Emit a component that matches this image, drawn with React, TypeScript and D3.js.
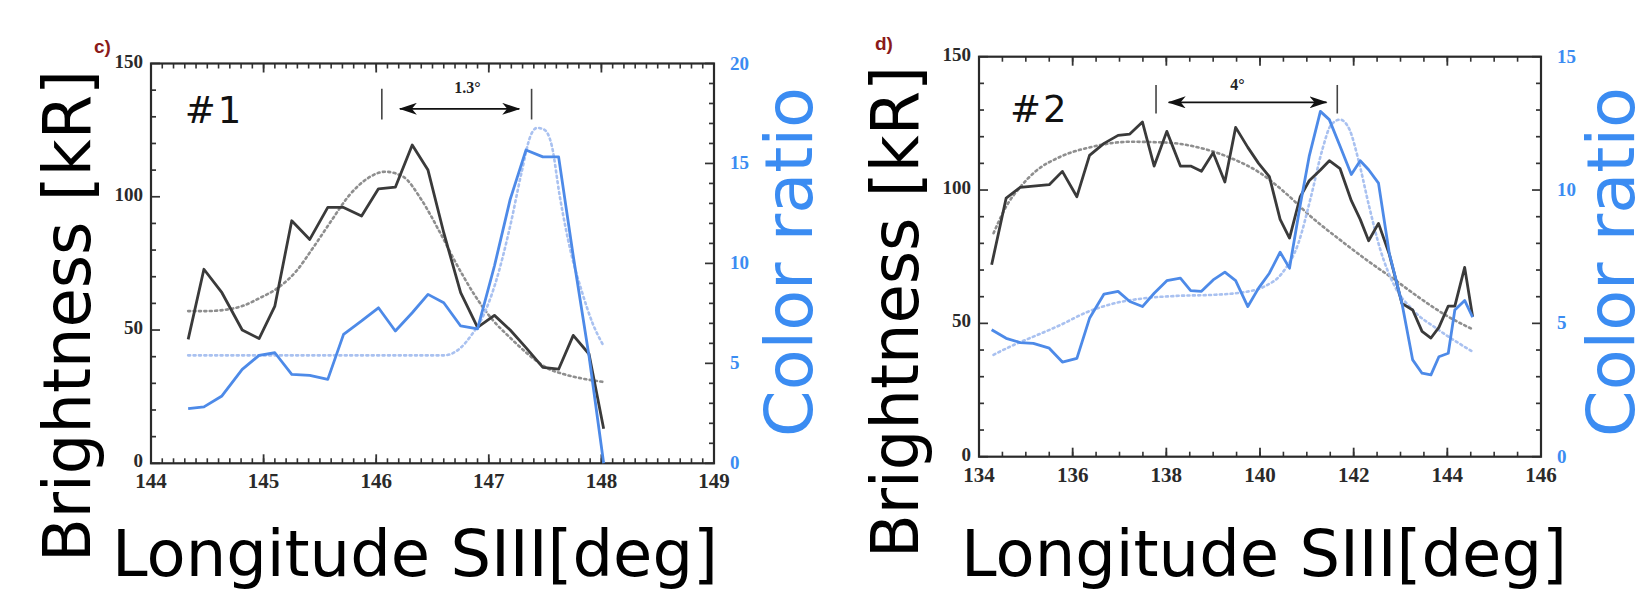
import React from "react";
import * as d3 from "d3";

// ---------- Panel c) (#1) ----------
const lonC = [144.33, 144.47, 144.63, 144.81, 144.96, 145.1, 145.25, 145.41, 145.57, 145.71, 145.87, 146.02, 146.17, 146.32, 146.46, 146.6, 146.75, 146.9, 147.05, 147.19, 147.33, 147.48, 147.62, 147.75, 147.89, 148.02];
const brightC = [46.5, 72.8, 64, 50, 46.8, 59, 91, 84, 96, 96, 92.8, 103, 103.6, 119.4, 110, 86.5, 64, 51, 55.5, 50, 43.4, 36, 35.3, 48, 41, 13];
const ratioC = [2.73, 2.82, 3.37, 4.7, 5.4, 5.53, 4.45, 4.4, 4.2, 6.45, 7.12, 7.78, 6.62, 7.53, 8.45, 8.03, 6.87, 6.73, 9.87, 13.2, 15.67, 15.33, 15.33, 10.37, 5.37, 0];
const brightFitLonC = [144.33, 144.49, 144.64, 144.81, 144.97, 145.13, 145.29, 145.44, 145.6, 145.76, 145.92, 146.08, 146.24, 146.4, 146.56, 146.71, 146.87, 147.03, 147.19, 147.35, 147.51, 147.67, 147.83, 148.02];
const brightFitC = [57.1, 57.1, 57.5, 59, 62.1, 65.9, 72.1, 80.9, 90.9, 100.5, 106.8, 109.4, 107.5, 99, 87.1, 75, 63.4, 54, 47.1, 40.9, 35.9, 33.4, 31.8, 30.5];
const ratioFitLonC = [144.33, 144.8, 145.3, 145.8, 146.2, 146.6, 146.75, 146.84, 146.95, 147.06, 147.19, 147.29, 147.37, 147.43, 147.49, 147.56, 147.63, 147.73, 147.83, 147.92, 148.02];
const ratioFitC = [5.4, 5.4, 5.4, 5.4, 5.4, 5.4, 5.78, 6.37, 7.37, 9.03, 11.87, 14.53, 16.37, 16.78, 16.7, 15.87, 13.37, 10.53, 8.53, 7.03, 5.87];
const xTicksC = [144, 145, 146, 147, 148, 149];
const markersC = [146.05, 147.38];
const arrowC = [146.21, 147.27];

// ---------- Panel d) (#2) ----------
const lonD = [134.27, 134.58, 134.88, 135.16, 135.5, 135.78, 136.09, 136.36, 136.67, 136.97, 137.22, 137.49, 137.74, 138.01, 138.3, 138.52, 138.75, 139.0, 139.25, 139.48, 139.74, 139.97, 140.2, 140.43, 140.63, 140.86, 141.05, 141.29, 141.48, 141.71, 141.95, 142.14, 142.32, 142.53, 142.76, 143.03, 143.26, 143.46, 143.65, 143.82, 144.02, 144.16, 144.37, 144.54];
const brightD = [72, 97, 101, 101.5, 102, 107, 97.5, 113, 117.5, 120.5, 121, 125.5, 109, 122, 109, 109, 107, 114, 103, 123.5, 116, 110, 105, 89, 82, 97.5, 103.5, 107.5, 111, 108, 96, 89, 81, 87.5, 76, 57.5, 55, 47, 44.5, 48.5, 56.5, 56.5, 71, 52.5];
const ratioD = [4.76, 4.44, 4.28, 4.25, 4.07, 3.55, 3.69, 5.19, 6.1, 6.2, 5.82, 5.63, 6.13, 6.6, 6.7, 6.23, 6.2, 6.63, 6.92, 6.6, 5.63, 6.32, 6.88, 7.67, 7.07, 9.45, 11.26, 12.95, 12.64, 11.64, 10.58, 11.1, 10.76, 10.26, 7.63, 5.76, 3.63, 3.13, 3.07, 3.75, 3.88, 5.5, 5.86, 5.23];
const brightFitLonD = [134.31, 134.58, 134.89, 135.2, 135.74, 136.44, 137.22, 137.99, 138.77, 139.39, 140.01, 140.55, 141.09, 141.71, 142.33, 142.88, 143.42, 144.04, 144.54];
const brightFitD = [83.8, 93.8, 101.3, 106.9, 112.5, 116.3, 118.1, 117.8, 115.6, 111.9, 106.3, 98.8, 90, 81.3, 73.1, 66.3, 59.4, 52.3, 47.8];
const ratioFitLonD = [134.31, 134.74, 135.2, 135.74, 136.29, 136.91, 137.53, 138.22, 139.0, 139.62, 140.09, 140.47, 140.82, 141.09, 141.33, 141.52, 141.71, 141.91, 142.1, 142.33, 142.57, 142.88, 143.26, 143.81, 144.54];
const ratioFitD = [3.82, 4.19, 4.53, 4.94, 5.41, 5.76, 5.94, 6.03, 6.07, 6.16, 6.38, 6.88, 8.01, 9.76, 11.51, 12.45, 12.64, 12.27, 11.14, 9.39, 7.76, 6.38, 5.51, 4.76, 3.94];
const xTicksD = [134, 136, 138, 140, 142, 144, 146];
const markersD = [137.78, 141.65];
const arrowD = [138.05, 141.42];

const brightTicks = [0, 50, 100, 150];

type PanelProps = {
  tag: string;
  id: string;
  left: number; right: number; top: number; bottom: number;
  xDomain: [number, number];
  xTicks: number[];
  xMinorStep: number;
  ratioMax: number;
  lon: number[]; bright: number[]; ratio: number[];
  bFitLon: number[]; bFit: number[];
  rFitLon: number[]; rFit: number[];
  markers: number[]; arrow: number[]; arrowY: number; markerSpan: [number, number];
  spanLabel: string; spanLabelX: number; spanLabelY: number;
  number: string; numberX: number; numberY: number;
  tagX: number; tagY: number;
  bLabelX: number; bLabelY: number;
  cLabelX: number; cLabelY: number;
  lLabelX: number;
};

const BLACK = "#3a3a3a";
const BLUE = "#4d8ae8";
const LABEL_BLUE = "#3b8cf2";

function Panel(p: PanelProps) {
  const x = d3.scaleLinear().domain(p.xDomain).range([p.left, p.right]);
  const yB = d3.scaleLinear().domain([0, 150]).range([p.bottom, p.top]);
  const yR = d3.scaleLinear().domain([0, p.ratioMax]).range([p.bottom, p.top]);

  const lineB = d3.line<number>().x((_, i) => x(p.lon[i])).y((d) => yB(d));
  const lineR = d3.line<number>().x((_, i) => x(p.lon[i])).y((d) => yR(d));
  const fitB = d3.line<number>().x((_, i) => x(p.bFitLon[i])).y((d) => yB(d)).curve(d3.curveMonotoneX);
  const fitR = d3.line<number>().x((_, i) => x(p.rFitLon[i])).y((d) => yR(d)).curve(d3.curveMonotoneX);

  const xMinor = d3.range(p.xDomain[0], p.xDomain[1] + 1e-9, p.xMinorStep);
  const bMinor = d3.range(0, 150.001, 10);
  const rMinor = d3.range(0, p.ratioMax + 0.001, 1);
  const rMajor = d3.range(0, p.ratioMax + 0.001, 5);
  const MJ = 9, MN = 5;
  const tickColor = "#333";
  const serif = "'Liberation Serif', 'Times New Roman', serif";
  const sans = "'DejaVu Sans', Verdana, sans-serif";

  return (
    <g>
      <defs>
        <marker id={`ah-${p.id}`} viewBox="0 0 18 12" refX="17" refY="6" markerWidth="18" markerHeight="12" markerUnits="userSpaceOnUse" orient="auto-start-reverse">
          <path d="M0,0 L18,6 L0,12 L5,6 Z" fill="#111" />
        </marker>
      </defs>
      {/* x ticks top and bottom */}
      {xMinor.map((v, i) => (
        <g key={`xm${i}`} stroke={tickColor} strokeWidth={1.6}>
          <line x1={x(v)} x2={x(v)} y1={p.bottom} y2={p.bottom - MN} />
          <line x1={x(v)} x2={x(v)} y1={p.top} y2={p.top + MN} />
        </g>
      ))}
      {p.xTicks.map((v) => (
        <g key={`xM${v}`} stroke={tickColor} strokeWidth={1.8}>
          <line x1={x(v)} x2={x(v)} y1={p.bottom} y2={p.bottom - MJ} />
          <line x1={x(v)} x2={x(v)} y1={p.top} y2={p.top + MJ} />
        </g>
      ))}
      {bMinor.map((v) => (
        <line key={`bm${v}`} x1={p.left} x2={p.left + (v % 50 === 0 ? MJ : MN)} y1={yB(v)} y2={yB(v)} stroke={tickColor} strokeWidth={1.7} />
      ))}
      {rMinor.map((v) => (
        <line key={`rm${v}`} x1={p.right} x2={p.right - (v % 5 === 0 ? MJ : MN)} y1={yR(v)} y2={yR(v)} stroke={tickColor} strokeWidth={1.7} />
      ))}
      <rect x={p.left} y={p.top} width={p.right - p.left} height={p.bottom - p.top} fill="none" stroke="#2a2a2a" strokeWidth={2.2} />

      {/* tick labels */}
      {p.xTicks.map((v) => (
        <text key={`xl${v}`} x={x(v)} y={p.bottom + 25} textAnchor="middle" fontFamily={serif} fontWeight="bold" fontSize={21} fill="#2a2a2a">{v}</text>
      ))}
      {brightTicks.map((v) => (
        <text key={`bl${v}`} x={p.left - 8} y={yB(v) + 4} textAnchor="end" fontFamily={serif} fontWeight="bold" fontSize={19} fill="#2a2a2a">{v}</text>
      ))}
      {rMajor.map((v) => (
        <text key={`rl${v}`} x={p.right + 16} y={yR(v) + 6} textAnchor="start" fontFamily={serif} fontWeight="bold" fontSize={19} fill={LABEL_BLUE}>{v}</text>
      ))}

      {/* fits */}
      <path d={fitB(p.bFit) || ""} fill="none" stroke="#8e8e8e" strokeWidth={2.6} strokeDasharray="2 3.4" strokeLinecap="round" />
      <path d={fitR(p.rFit) || ""} fill="none" stroke="#a9c1f0" strokeWidth={2.6} strokeDasharray="2 3.4" strokeLinecap="round" />
      {/* data */}
      <path d={lineB(p.bright) || ""} fill="none" stroke={BLACK} strokeWidth={2.8} strokeLinejoin="round" />
      <path d={lineR(p.ratio) || ""} fill="none" stroke={BLUE} strokeWidth={2.8} strokeLinejoin="round" />

      {/* annotations */}
      {p.markers.map((m) => (
        <line key={`mk${m}`} x1={x(m)} x2={x(m)} y1={yB(p.markerSpan[0])} y2={yB(p.markerSpan[1])} stroke="#444" strokeWidth={1.6} />
      ))}
      <line x1={x(p.arrow[0])} x2={x(p.arrow[1])} y1={yB(p.arrowY)} y2={yB(p.arrowY)} stroke="#111" strokeWidth={1.8}
        markerStart={`url(#ah-${p.id})`} markerEnd={`url(#ah-${p.id})`} />
      <text x={x(p.spanLabelX)} y={yB(p.spanLabelY)} textAnchor="middle" fontFamily={serif} fontWeight="bold" fontSize={16} fill="#222">{p.spanLabel}</text>
      <text x={x(p.numberX)} y={yB(p.numberY)} fontFamily={sans} fontSize={37} letterSpacing={2} fill="#111">{p.number}</text>

      {/* panel tag */}
      <text x={p.tagX} y={p.tagY} fontFamily="'Liberation Sans', Arial, sans-serif" fontWeight="bold" fontSize={19} fill="#8b1a1a">{p.tag}</text>

      {/* axis titles */}
      <text transform={`translate(${p.bLabelX},${p.bLabelY}) rotate(-90)`} textAnchor="middle" fontFamily={sans} fontSize={65} textLength={492} lengthAdjust="spacingAndGlyphs" fill="#000">Brightness [kR]</text>
      <text transform={`translate(${p.cLabelX},${p.cLabelY}) rotate(-90)`} textAnchor="middle" fontFamily={sans} fontSize={65} textLength={350} lengthAdjust="spacingAndGlyphs" fill={LABEL_BLUE}>Color ratio</text>
      <text x={p.lLabelX} y={576} fontFamily={sans} fontSize={64} textLength={606} lengthAdjust="spacingAndGlyphs" fill="#000">Longitude SIII[deg]</text>
    </g>
  );
}

export default function App() {
  return (
    <svg width={1650} height={592} style={{ position: "absolute", left: 0, top: 0, background: "#fff" }}>
      <rect x={0} y={0} width={1650} height={592} fill="#fff" />
      <Panel
        tag="c)" id="c"
        left={151} right={714} top={63.5} bottom={463.3}
        xDomain={[144, 149]} xTicks={xTicksC} xMinorStep={0.1} ratioMax={20}
        lon={lonC} bright={brightC} ratio={ratioC}
        bFitLon={brightFitLonC} bFit={brightFitC}
        rFitLon={ratioFitLonC} rFit={ratioFitC}
        markers={markersC} arrow={arrowC} arrowY={133} markerSpan={[129, 140.5]}
        spanLabel="1.3°" spanLabelX={146.81} spanLabelY={139}
        number="#1" numberX={144.3} numberY={127.7}
        tagX={94} tagY={53}
        bLabelX={90} bLabelY={316}
        cLabelX={812} cLabelY={262}
        lLabelX={112}
      />
      <Panel
        tag="d)" id="d"
        left={979} right={1541} top={56.7} bottom={456.7}
        xDomain={[134, 146]} xTicks={xTicksD} xMinorStep={0.5} ratioMax={15}
        lon={lonD} bright={brightD} ratio={ratioD}
        bFitLon={brightFitLonD} bFit={brightFitD}
        rFitLon={ratioFitLonD} rFit={ratioFitD}
        markers={markersD} arrow={arrowD} arrowY={132.9} markerSpan={[128.7, 139.4]}
        spanLabel="4°" spanLabelX={139.52} spanLabelY={137.5}
        number="#2" numberX={134.66} numberY={125.6}
        tagX={875} tagY={50}
        bLabelX={918} bLabelY={312}
        cLabelX={1634} cLabelY={262}
        lLabelX={961}
      />
    </svg>
  );
}
